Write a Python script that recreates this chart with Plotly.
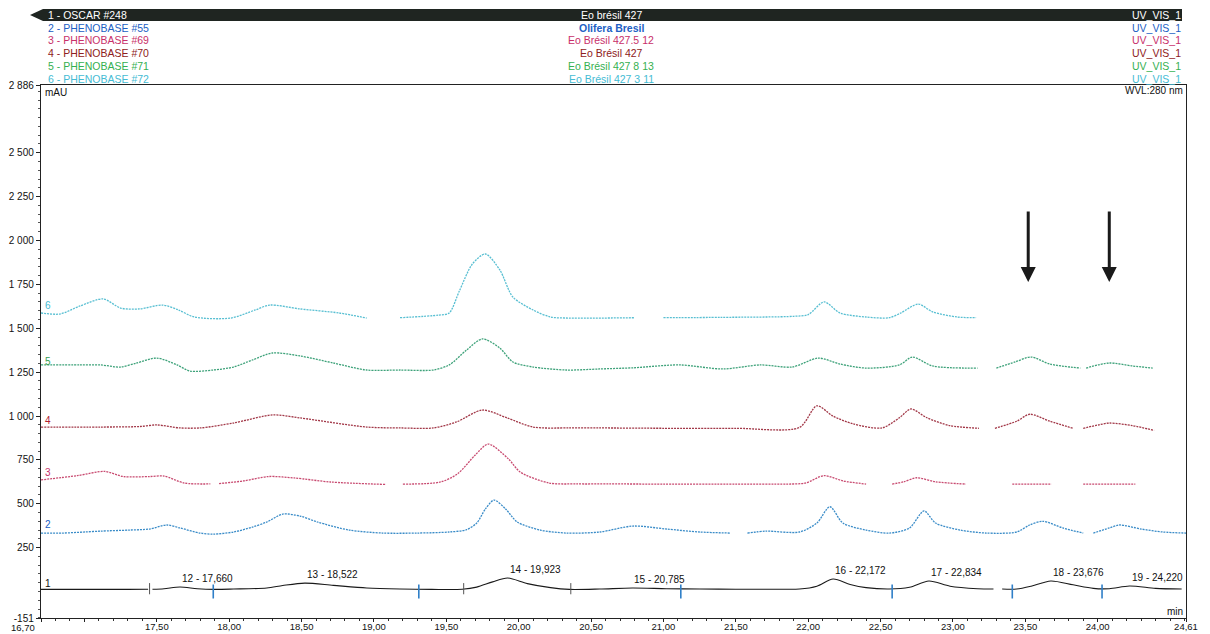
import plotly.graph_objects as go

# ---- chromatogram data: retention time (min) / absorbance (mAU) ----
t1 = [16.70, 17.00, 17.30, 17.44, None, 17.47, 17.55, 17.66, 17.78, 17.90, 18.03, 18.26, 18.37, 18.522, 18.72, 18.95,
      19.18, 19.40, 19.61, 19.71, 19.82, 19.923, 20.06, 20.22, 20.35, 20.56, 20.785, 21.02, 21.25, 21.50, 21.80,
      21.94, 22.06, 22.172, 22.29, 22.40, 22.56, 22.70, 22.834, 22.98, 23.17, 23.28, None, 23.34, 23.44, 23.54,
      23.676, 23.83, 23.97, 24.08, 24.22, 24.40, 24.58]
v1 = [12, 12, 12, 13, None, 13, 16, 26, 16, 12, 14, 20, 34, 48, 35, 20,
      14, 12, 13, 25, 55, 77, 45, 22, 12, 14, 20, 16, 14, 13, 13,
      14, 30, 71, 40, 22, 14, 24, 60, 30, 16, 14, None, 14, 14, 30,
      60, 38, 18, 16, 31, 18, 14]

t2 = [16.70, 16.85, 17.00, 17.11, 17.31, 17.45, 17.57, 17.66, 17.80, 17.89, 18.03, 18.16, 18.26, 18.37, 18.49,
      18.61, 18.83, 19.06, 19.30, 19.52, 19.64, 19.71, 19.77, 19.83, 19.91, 19.99, 20.15, 20.33, 20.56, 20.79,
      21.02, 21.25, 21.46, None, 21.58, 21.71, 21.94, 22.06, 22.15, 22.24, 22.40, 22.56, 22.70, 22.80, 22.88,
      23.05, 23.23, 23.44, 23.53, 23.62, 23.76, 23.90, None, 23.97, 24.08, 24.15, 24.30, 24.45, 24.61]
v2 = [333, 333, 339, 344, 350, 356, 379, 362, 333, 327, 339, 367, 396, 441, 430,
      396, 350, 333, 333, 339, 352, 390, 470, 521, 470, 396, 350, 333, 339, 373,
      356, 339, 333, None, 333, 344, 339, 390, 483, 390, 350, 333, 362, 459, 390,
      350, 333, 339, 379, 400, 362, 333, None, 333, 362, 379, 356, 339, 333]

t3 = [16.70, 16.95, 17.14, 17.27, 17.45, 17.55, 17.69, 17.87, None, 17.93, 18.10, 18.27, 18.45, 18.70, 19.08,
      None, 19.20, 19.46, 19.58, 19.70, 19.79, 19.93, 20.01, 20.21, 20.40, 20.63, 21.00, 21.50, 21.85, 21.98,
      22.11, 22.24, 22.40, None, 22.58, 22.66, 22.75, 22.88, 23.09, None, 23.41, 23.68, None, 23.90, 24.26]
v3 = [636, 660, 684, 655, 655, 658, 618, 613, None, 615, 630, 655, 647, 624, 610,
      None, 612, 624, 672, 778, 840, 755, 681, 618, 613, 613, 612, 612, 612, 618,
      660, 630, 612, None, 612, 625, 648, 625, 612, None, 612, 612, None, 612, 612]

t4 = [16.70, 17.11, 17.38, 17.50, 17.66, 17.80, 18.03, 18.30, 18.49, 18.95, 19.18, 19.41, 19.57, 19.75, 19.92,
      20.10, 20.35, 20.56, 21.00, 21.50, 21.94, 22.06, 22.17, 22.31, 22.51, 22.63, 22.71, 22.82, 22.98, 23.18,
      None, 23.29, 23.44, 23.53, 23.67, 23.83, None, 23.90, 24.01, 24.08, 24.24, 24.39]
v4 = [937, 937, 940, 949, 932, 932, 960, 1006, 989, 937, 932, 932, 966, 1034, 989,
      937, 932, 932, 930, 930, 935, 1058, 1000, 955, 932, 990, 1040, 990, 945, 930,
      None, 930, 970, 1010, 970, 930, None, 930, 950, 960, 945, 918]

t5 = [16.70, 16.97, 17.11, 17.25, 17.36, 17.50, 17.64, 17.73, 17.89, 18.03, 18.16, 18.30, 18.49, 18.72, 18.95,
      19.18, 19.41, 19.52, 19.64, 19.75, 19.87, 19.96, 20.10, 20.33, 20.56, 20.80, 21.11, 21.41, 21.67, 21.89,
      22.07, 22.22, 22.40, 22.63, 22.72, 22.86, 23.17, None, 23.30, 23.43, 23.54, 23.67, 23.88, None, 23.92,
      24.08, 24.24, 24.38]
v5 = [1291, 1291, 1291, 1279, 1302, 1330, 1291, 1256, 1262, 1279, 1319, 1359, 1342, 1302, 1262,
      1262, 1262, 1291, 1376, 1439, 1387, 1308, 1279, 1262, 1268, 1275, 1291, 1268, 1291, 1279,
      1330, 1296, 1273, 1291, 1336, 1285, 1273, None, 1273, 1308, 1336, 1296, 1273, None, 1273,
      1302, 1285, 1273]

t6 = [16.70, 16.83, 16.97, 17.13, 17.25, 17.38, 17.54, 17.65, 17.76, 18.01, 18.18, 18.28, 18.49, 18.76, 18.95,
      None, 19.18, 19.45, 19.52, 19.59, 19.68, 19.77, 19.87, 19.96, 20.10, 20.22, 20.35, 20.80, None, 21.00,
      21.40, 21.90, 22.00, 22.11, 22.22, 22.40, 22.56, 22.64, 22.76, 22.86, 23.03, 23.16]
v6 = [1587, 1581, 1627, 1667, 1615, 1610, 1632, 1604, 1564, 1558, 1604, 1632, 1610, 1587, 1558,
      None, 1560, 1575, 1587, 1712, 1866, 1923, 1832, 1678, 1604, 1564, 1558, 1560, None, 1560,
      1562, 1568, 1578, 1650, 1587, 1564, 1560, 1587, 1638, 1593, 1564, 1560]

# integrated peaks of trace 1
peak_no = [12, 13, 14, 15, 16, 17, 18, 19]
peak_rt = [17.660, 18.522, 19.923, 20.785, 22.172, 22.834, 23.676, 24.220]

# integration boundary markers on trace 1
delim_blue = [17.89, 19.31, 21.12, 22.58, 23.41, 24.03]
delim_grey = [17.45, 19.62, 20.36]

# header rows
hdr_left = ["1 - OSCAR #248", "2 - PHENOBASE #55", "3 - PHENOBASE #69",
            "4 - PHENOBASE #70", "5 - PHENOBASE #71", "6 - PHENOBASE #72"]
hdr_mid = ["Eo brésil 427", "Olifera Bresil", "Eo Brésil 427.5 12",
           "Eo Brésil 427", "Eo Brésil 427 8 13", "Eo Brésil 427 3 11"]
hdr_right = ["UV_VIS_1"] * 6
hdr_color = ["#ffffff", "#2160c4", "#c8306a", "#8e2020", "#34b050", "#45bcd4"]

# axis ticks
x_ticks = [16.70, 17.00, 17.50, 18.00, 18.50, 19.00, 19.50, 20.00, 20.50, 21.00,
           21.50, 22.00, 22.50, 23.00, 23.50, 24.00, 24.61]
y_ticks = [-151, 250, 500, 750, 1000, 1250, 1500, 1750, 2000, 2250, 2500, 2886]

# markers pointing at peaks of interest
arrow_rt = [23.52, 24.08]

FONT = "Liberation Sans, Arial, sans-serif"
W, H = 1210, 634
ML, MR, MT, MB = 41, 24, 85, 16
PW, PH = W - ML - MR, H - MT - MB


def px(x):
    return (x - ML) / PW


def py(y):
    return (H - MB - y) / PH


def fmt_x(v):
    return f"{v:.2f}".replace(".", ",")


def fmt_y(v):
    return f"{v:,d}".replace(",", " ")


fig = go.Figure()

trace_style = [
    (t6, v6, "#58bfd2"),
    (t5, v5, "#3ea27a"),
    (t4, v4, "#a23848"),
    (t3, v3, "#c84a70"),
    (t2, v2, "#3a8cc8"),
]
for tx, vy, col in trace_style:
    fig.add_trace(go.Scatter(x=tx, y=vy, mode="lines", connectgaps=False,
                             line=dict(color=col, width=1.3, dash="2px,1px", shape="spline", smoothing=0.8),
                             hoverinfo="skip"))

fig.add_trace(go.Scatter(x=t1, y=v1, mode="lines", connectgaps=False,
                         line=dict(color="#1a1a1a", width=1.1, shape="spline", smoothing=0.8),
                         hoverinfo="skip"))

base1 = v1[0]
fig.add_trace(go.Scatter(x=delim_blue, y=[base1 - 12] * len(delim_blue), mode="markers",
                         marker=dict(symbol="line-ns", size=10, line=dict(color="#2f7fc8", width=1.6)),
                         hoverinfo="skip"))
fig.add_trace(go.Scatter(x=delim_grey, y=[base1 + 4] * len(delim_grey), mode="markers",
                         marker=dict(symbol="line-ns", size=8, line=dict(color="#555555", width=1)),
                         hoverinfo="skip"))

ann = []
# peak labels
peak_h = {t: v for t, v in zip(t1, v1) if t is not None}
for n, rt in zip(peak_no, peak_rt):
    ann.append(dict(x=rt, y=peak_h[rt], xref="x", yref="y", text=f"{n} - {rt:.3f}".replace(".", ","),
                    showarrow=False, xanchor="left", yanchor="bottom", yshift=1,
                    font=dict(family=FONT, size=10, color="#111111")))

# trace numbers at the left edge
num_pos = [(48, "1", "#111111"), (379, "2", "#2160c4"), (680, "3", "#c8306a"),
           (977, "4", "#b02030"), (1313, "5", "#34a050"), (1627, "6", "#45bcd4")]
for yv, txt, col in num_pos:
    ann.append(dict(x=16.70, y=yv, xref="x", yref="y", text=txt, showarrow=False,
                    xanchor="left", yanchor="middle", xshift=2, font=dict(family=FONT, size=10, color=col)))

# header
row_y = [15, 28, 40, 53, 66, 79]
for i in range(6):
    ann.append(dict(x=px(46), y=py(row_y[i]), xref="paper", yref="paper", text=hdr_left[i], showarrow=False,
                    xanchor="left", yanchor="middle", font=dict(family=FONT, size=10.5, color=hdr_color[i])))
    ann.append(dict(x=px(611), y=py(row_y[i]), xref="paper", yref="paper",
                    text=("<b>" + hdr_mid[i] + "</b>") if i == 1 else hdr_mid[i], showarrow=False,
                    xanchor="center", yanchor="middle", font=dict(family=FONT, size=10.5, color=hdr_color[i])))
    ann.append(dict(x=px(1130), y=py(row_y[i]), xref="paper", yref="paper", text=hdr_right[i], showarrow=False,
                    xanchor="left", yanchor="middle", font=dict(family=FONT, size=10.5, color=hdr_color[i])))

ann.append(dict(x=px(43), y=py(92), xref="paper", yref="paper", text="mAU", showarrow=False,
                xanchor="left", yanchor="middle", font=dict(family=FONT, size=10, color="#111111")))
ann.append(dict(x=px(1185), y=py(91), xref="paper", yref="paper", text="WVL:280 nm", showarrow=False,
                xanchor="right", yanchor="middle", font=dict(family=FONT, size=10, color="#111111")))
ann.append(dict(x=px(1185), y=py(611), xref="paper", yref="paper", text="min", showarrow=False,
                xanchor="right", yanchor="middle", font=dict(family=FONT, size=10, color="#111111")))
ann.append(dict(x=px(37), y=py(627), xref="paper", yref="paper", text=fmt_x(x_ticks[0]), showarrow=False,
                xanchor="right", yanchor="middle", font=dict(family=FONT, size=9.5, color="#111111")))

# arrows
for rt in arrow_rt:
    ann.append(dict(x=rt, y=1763, ax=rt, ay=2174, xref="x", yref="y", axref="x", ayref="y", text="",
                    showarrow=True, arrowhead=2, arrowsize=1, arrowwidth=3, arrowcolor="#1a1a1a"))

shapes = [
    dict(type="rect", xref="paper", yref="paper", x0=px(43), x1=px(1182), y0=py(9), y1=py(21),
         fillcolor="#1f2521", line=dict(width=0), layer="below"),
    dict(type="path", xref="paper", yref="paper",
         path=f"M {px(43)} {py(9)} L {px(30)} {py(15)} L {px(43)} {py(21)} Z",
         fillcolor="#1f2521", line=dict(width=0), layer="below"),
]

fig.update_layout(
    width=W, height=H,
    margin=dict(l=ML, r=MR, t=MT, b=MB, pad=0, autoexpand=False),
    paper_bgcolor="white", plot_bgcolor="white",
    showlegend=False,
    font=dict(family=FONT, size=10, color="#111111"),
    annotations=ann, shapes=shapes,
    xaxis=dict(range=[16.70, 24.61], showgrid=False, zeroline=False, automargin=False,
               showline=True, linecolor="#222222", linewidth=1.4, mirror=True,
               ticks="outside", ticklen=3, tickcolor="#222222", tickwidth=1,
               ticklabelstandoff=-4,
               tickmode="array", tickvals=x_ticks,
               ticktext=["", ""] + [fmt_x(v) for v in x_ticks[2:]],
               tickfont=dict(family=FONT, size=9.5, color="#111111"),
               minor=dict(tickmode="linear", tick0=0, dtick=0.1, ticks="outside", ticklen=2,
                          tickcolor="#333333")),
    yaxis=dict(range=[-151, 2886], showgrid=False, zeroline=False, automargin=False,
               showline=True, linecolor="#222222", linewidth=1.4, mirror=True,
               ticks="outside", ticklen=4, tickcolor="#222222", tickwidth=1,
               tickmode="array", tickvals=y_ticks, ticktext=[fmt_y(v) for v in y_ticks],
               tickfont=dict(family=FONT, size=10, color="#111111"),
               minor=dict(tickmode="linear", tick0=0, dtick=50, ticks="outside", ticklen=2,
                          tickcolor="#555555")),
)

fig.write_html("out.html")
